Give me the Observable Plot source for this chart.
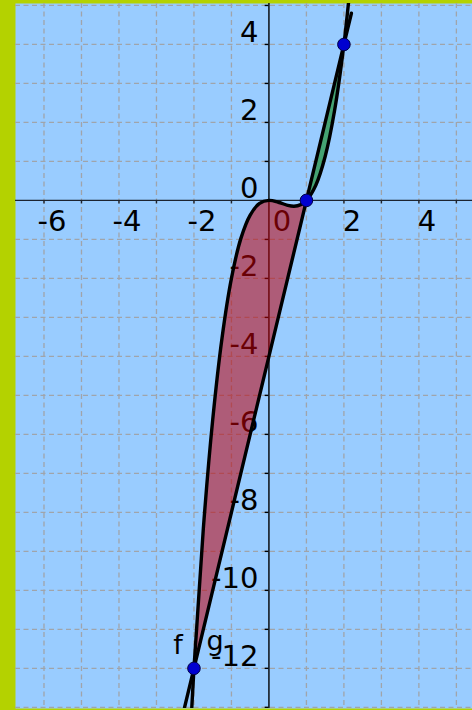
<!DOCTYPE html>
<html><head><meta charset="utf-8">
<script src="https://cdn.jsdelivr.net/npm/d3@7"></script>
<script src="https://cdn.jsdelivr.net/npm/@observablehq/plot@0.6"></script>
<style>
html,body{margin:0;padding:0;background:#b4d200;}
#chart svg{display:block;background:#b4d200;}
</style>
</head><body><div id="chart"></div>
<script>
// Sampled curve readings
const xSamples = [-2.3, -2, -1.75, -1.5, -1.25, -1, -0.75, -0.5, -0.25, 0, 0.25, 0.5, 0.67, 0.85, 1, 1.25, 1.5, 1.75, 2, 2.2];
const fValues  = [-17.46, -12, -8.42, -5.63, -3.52, -2, -0.98, -0.375, -0.078, 0, -0.047, -0.125, -0.148, -0.108, 0, 0.39, 1.125, 2.30, 4, 5.81];
const gValues  = [-13.2, -12, -11, -10, -9, -8, -7, -6, -5, -4, -3, -2, -1.32, -0.6, 0, 1, 2, 3, 4, 4.8];
const intersections = [{x: -2, y: -12}, {x: 1, y: 0}, {x: 2, y: 4}];
const xTickLabels = [-6, -4, -2, 2, 4];
const xOriginLabel = [0];
const yTickLabels = [4, 2, 0, -2, -4, -6, -8, -10, -12];
const gridX = [-6, -5, -4, -3, -2, -1, 1, 2, 3, 4, 5];
const gridY = [-13, -12, -11, -10, -9, -8, -7, -6, -5, -4, -3, -2, -1, 1, 2, 3, 4, 5];
const tickX = [-6, -5, -4, -3, -2, -1, 1, 2, 3, 4, 5];
const tickY = [-13, -12, -11, -10, -9, -8, -7, -6, -5, -4, -3, -2, -1, 1, 2, 3, 4, 5];
const curveNames = ["f", "g"];

const rows = xSamples.map((x, i) => ({x, f: fValues[i], g: gValues[i]}));
const redRows = rows.filter(d => d.x >= -2 && d.x <= 1);
const greenRows = rows.filter(d => d.x >= 1 && d.x <= 2);
const anchorPt = [intersections[0]];

const font = "DejaVu Sans, sans-serif";
const chart = Plot.plot({
  width: 472,
  height: 710,
  marginLeft: 15,
  marginRight: 0,
  marginTop: 3,
  marginBottom: 2,
  x: {domain: [-6.76, 5.43], axis: null},
  y: {domain: [-13.03, 5.05], axis: null},
  style: {fontFamily: font, background: "#b4d200"},
  marks: [
    Plot.frame({fill: "#99ccff", stroke: null}),
    Plot.ruleX(gridX, {stroke: "#a0a4aa", strokeWidth: 1.3, strokeDasharray: "5,3.5", clip: true}),
    Plot.ruleY(gridY, {stroke: "#a0a4aa", strokeWidth: 1.3, strokeDasharray: "5,3.5", clip: true}),
    Plot.ruleY([0], {stroke: "#1c2430", strokeWidth: 1.4}),
    Plot.ruleX([0], {stroke: "#000", strokeWidth: 1.4}),
    Plot.ruleX(tickX, {x: d => d, y1: 0, y2: -0.09, stroke: "#1c2430", strokeWidth: 1.4}),
    Plot.ruleY(tickY, {y: d => d, x1: 0, x2: -0.1, stroke: "#000", strokeWidth: 1.4}),
    Plot.text(xTickLabels, {x: d => d, y: 0, text: d => String(d), textAnchor: "middle", lineAnchor: "bottom",
      dx: 8, dy: 31, fontSize: 29, fill: "#000"}),
    Plot.text(xOriginLabel, {x: d => d, y: 0, text: d => String(d), textAnchor: "middle", lineAnchor: "bottom",
      dx: 13, dy: 31, fontSize: 29, fill: "#000"}),
    Plot.text(yTickLabels, {x: 0, y: d => d, text: d => String(d), textAnchor: "end", lineAnchor: "bottom",
      dx: -10.5, dy: -2.5, fontSize: 29, fill: "#000"}),
    Plot.areaY(redRows, {x: "x", y1: "g", y2: "f", curve: "catmull-rom", fill: "#c0000a", fillOpacity: 0.55}),
    Plot.areaY(greenRows, {x: "x", y1: "g", y2: "f", curve: "catmull-rom", fill: "#008200", fillOpacity: 0.55}),
    Plot.line(rows, {x: "x", y: "g", stroke: "#000", strokeWidth: 3.4, clip: true}),
    Plot.line(rows, {x: "x", y: "f", curve: "catmull-rom", stroke: "#000", strokeWidth: 3.4, clip: true}),
    Plot.dot(intersections, {x: "x", y: "y", r: 6.3, fill: "#0000d0", stroke: "#000044", strokeWidth: 1}),
    Plot.text(anchorPt, {x: "x", y: "y", text: () => curveNames[0], dx: -16, dy: -14, textAnchor: "middle", lineAnchor: "bottom",
      fontSize: 27, fill: "#000"}),
    Plot.text(anchorPt, {x: "x", y: "y", text: () => curveNames[1], dx: 21, dy: -18, textAnchor: "middle", lineAnchor: "bottom",
      fontSize: 27, fill: "#000"})
  ]
});
document.getElementById("chart").appendChild(chart);
</script>
</body></html>
